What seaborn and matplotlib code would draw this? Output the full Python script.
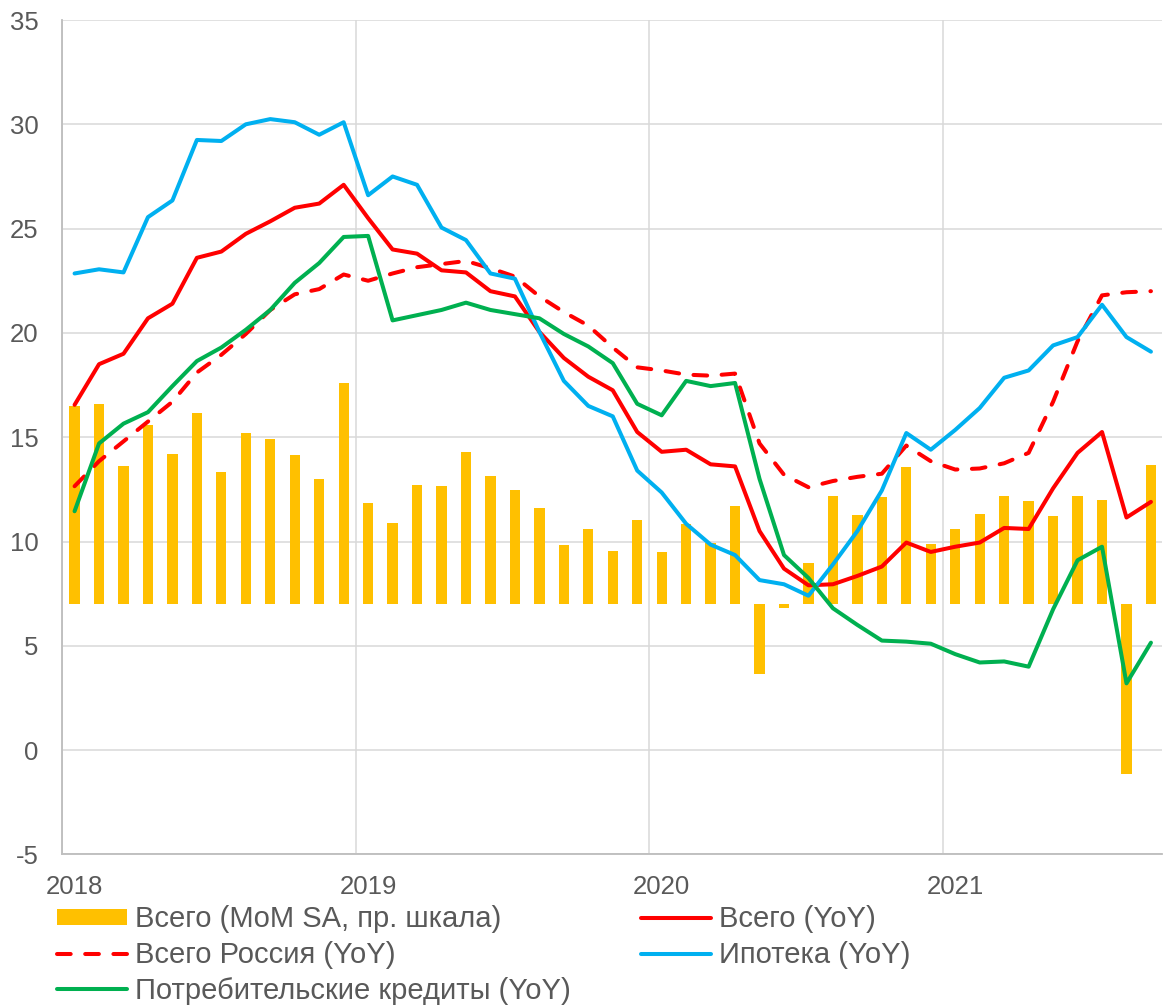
import numpy as np
import pandas as pd
import seaborn as sns
import matplotlib.pyplot as plt
from matplotlib.patches import Patch
from matplotlib.lines import Line2D

# months Jan 2018 .. Sep 2021
months = pd.date_range('2018-01-01', '2021-09-01', freq='MS')
year_labels = ['2018', '2019', '2020', '2021']

# MoM SA growth, %, right (hidden) scale
total_mom = [1.90, 1.92, 1.32, 1.72, 1.44, 1.83, 1.27, 1.64, 1.58, 1.43, 1.20, 2.12,
             0.97, 0.78, 1.14, 1.13, 1.46, 1.23, 1.09, 0.92, 0.57, 0.72, 0.51, 0.81,
             0.50, 0.77, 0.59, 0.94, -0.67, -0.04, 0.39, 1.04, 0.85, 1.03, 1.31, 0.58,
             0.72, 0.86, 1.04, 0.99, 0.84, 1.04, 1.00, -1.63, 1.33]

# YoY growth, %
total_yoy = [16.55, 18.5, 19.0, 20.7, 21.4, 23.6, 23.9, 24.75, 25.35, 26.0, 26.2, 27.1,
             25.5, 24.0, 23.8, 23.0, 22.9, 22.0, 21.75, 20.05, 18.8, 17.9, 17.25, 15.25,
             14.3, 14.4, 13.7, 13.6, 10.5, 8.7, 7.9, 7.95, 8.35, 8.8, 9.95, 9.5,
             9.75, 9.95, 10.65, 10.6, 12.55, 14.25, 15.25, 11.15, 11.9]
russia_yoy = [12.65, 13.85, 14.8, 15.75, 16.7, 18.1, 18.95, 19.95, 21.1, 21.85, 22.1, 22.8,
              22.5, 22.85, 23.15, 23.3, 23.45, 23.1, 22.7, 21.75, 21.0, 20.35, 19.3, 18.35,
              18.2, 18.0, 17.95, 18.05, 14.7, 13.2, 12.6, 12.9, 13.1, 13.25, 14.6, 13.85,
              13.45, 13.5, 13.75, 14.25, 16.7, 19.6, 21.8, 21.95, 22.0]
mortgage_yoy = [22.85, 23.05, 22.9, 25.55, 26.35, 29.25, 29.2, 30.0, 30.25, 30.1, 29.5, 30.1,
                26.6, 27.5, 27.1, 25.05, 24.45, 22.85, 22.6, 20.05, 17.7, 16.5, 16.0, 13.4,
                12.35, 10.85, 9.85, 9.35, 8.15, 7.95, 7.4, 8.9, 10.5, 12.45, 15.2, 14.4,
                15.35, 16.4, 17.85, 18.2, 19.4, 19.8, 21.35, 19.8, 19.1]
consumer_yoy = [11.45, 14.7, 15.65, 16.2, 17.45, 18.65, 19.3, 20.15, 21.1, 22.4, 23.35, 24.6,
                24.65, 20.6, 20.85, 21.1, 21.45, 21.1, 20.9, 20.7, 19.95, 19.35, 18.55, 16.6,
                16.05, 17.7, 17.45, 17.6, 13.0, 9.35, 8.25, 6.8, 6.0, 5.25, 5.2, 5.1,
                4.6, 4.2, 4.25, 4.0, 6.75, 9.1, 9.75, 3.2, 5.15]

labels = ['Всего (MoM SA, пр. шкала)', 'Всего (YoY)', 'Всего Россия (YoY)',
          'Ипотека (YoY)', 'Потребительские кредиты (YoY)']

GOLD, RED, BLUE, GREEN = '#FFC000', '#FF0000', '#00B0F0', '#00B050'
GREY_TXT, GRID = '#595959', '#D9D9D9'

sns.set_style('white')
plt.rcParams['font.family'] = ['Liberation Sans', 'DejaVu Sans']
plt.rcParams['axes.unicode_minus'] = False

idx = np.arange(len(months))
df = pd.DataFrame({'i': idx, 'mom': total_mom, 'total': total_yoy, 'russia': russia_yoy,
                   'mortgage': mortgage_yoy, 'consumer': consumer_yoy})

fig = plt.figure(figsize=(11.63, 10.06), dpi=100)
ax_bar = fig.add_axes([0.0536, 0.1507, 0.9455, 0.8294])
ax = ax_bar.twinx()

# bars on hidden right scale (0 aligned with 7 on the left scale)
sns.barplot(data=df, x='i', y='mom', ax=ax_bar, native_scale=True, color=GOLD,
            saturation=1, width=0.42, errorbar=None, linewidth=0)
ax_bar.set_ylim(-2.4, 5.6)
ax_bar.set_yticks(np.linspace(-2.4, 5.6, 9))
ax_bar.set_xticks([0, 12, 24, 36])
ax_bar.set_xticklabels(year_labels)
ax_bar.set_xticks([-0.5, 11.5, 23.5, 35.5], minor=True)
ax_bar.grid(True, axis='y', which='major', color=GRID, lw=1.1)
ax_bar.grid(True, axis='x', which='minor', color=GRID, lw=1.1)
ax_bar.grid(False, axis='x', which='major')
ax_bar.tick_params(axis='y', left=False, labelleft=False)
ax_bar.tick_params(axis='x', which='both', length=0, pad=15, labelsize=18.5,
                   labelcolor=GREY_TXT)
ax_bar.set_xlabel('')
ax_bar.set_ylabel('')

lw = 2.9
sns.lineplot(data=df, x='i', y='total', ax=ax, color=RED, lw=lw, solid_capstyle='round')
sns.lineplot(data=df, x='i', y='russia', ax=ax, color=RED, lw=lw,
             linestyle=(0, (3.4, 3.6)), dash_capstyle='round')
sns.lineplot(data=df, x='i', y='mortgage', ax=ax, color=BLUE, lw=lw, solid_capstyle='round')
sns.lineplot(data=df, x='i', y='consumer', ax=ax, color=GREEN, lw=lw, solid_capstyle='round')

ax.set_ylim(-5, 35)
ax.set_yticks(range(-5, 36, 5))
ax.yaxis.tick_left()
ax.grid(False)
ax.set_xlim(-0.5, 44.45)
ax.tick_params(axis='y', length=0, pad=17, labelsize=18.5, labelcolor=GREY_TXT)
ax.set_xlabel('')
ax.set_ylabel('')

for a in (ax, ax_bar):
    for s in ('top', 'right'):
        a.spines[s].set_visible(False)
    for s in ('left', 'bottom'):
        a.spines[s].set_color('#BFBFBF')
        a.spines[s].set_linewidth(1.1)

handles = [Patch(facecolor=GOLD, edgecolor='none'),
           Line2D([], [], color=RED, lw=lw, linestyle=(0, (3.4, 3.6)), dash_capstyle='round'),
           Line2D([], [], color=GREEN, lw=lw),
           Line2D([], [], color=RED, lw=lw),
           Line2D([], [], color=BLUE, lw=lw)]
leg_labels = [labels[0], labels[2], labels[4], labels[1], labels[3]]
fig.legend(handles, leg_labels, loc='upper left', bbox_to_anchor=(0.049, 0.1),
           ncol=2, frameon=False, fontsize=21, labelcolor=GREY_TXT,
           handlelength=2.4, handleheight=0.45, handletextpad=0.28,
           columnspacing=2.4, labelspacing=0.26, borderpad=0, borderaxespad=0)

plt.savefig('out.png', dpi=100)
